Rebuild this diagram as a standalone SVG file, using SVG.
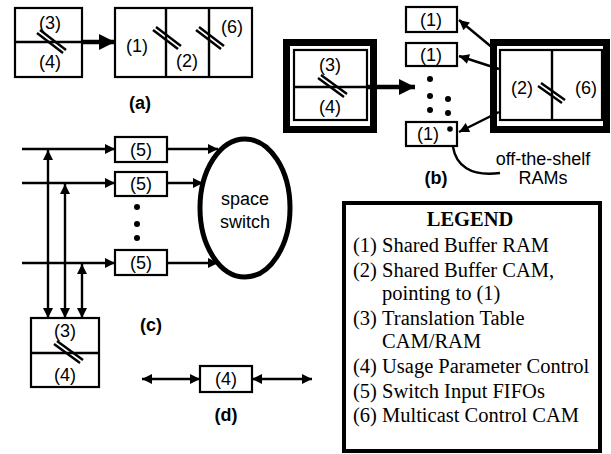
<svg xmlns="http://www.w3.org/2000/svg" width="611" height="454" viewBox="0 0 611 454">
<defs>
<style>
.box{fill:#fff;stroke:#000;stroke-width:2.2}
.thk{fill:none;stroke:#000;stroke-width:7}
.ln{fill:none;stroke:#000;stroke-width:2.4}
.sl{stroke:#000;stroke-width:2.4}
.big{fill:none;stroke:#000;stroke-width:4.5}
.t{font-family:"Liberation Sans",Arial,sans-serif;font-size:18px;text-anchor:middle;fill:#000}
.lab{font-family:"Liberation Sans",Arial,sans-serif;font-size:18px;font-weight:bold;text-anchor:middle;fill:#000}
.lg{font-family:"Liberation Serif","Times New Roman",serif;font-size:20.5px;fill:#000}
.dot{fill:#000}
</style>
<marker id="ah" viewBox="0 0 10 10" refX="10" refY="5" markerWidth="13" markerHeight="10" orient="auto-start-reverse" markerUnits="userSpaceOnUse"><path d="M0,0 L10,5 L0,10 z"/></marker>
<marker id="bh" viewBox="0 0 10 10" refX="10" refY="5" markerWidth="18" markerHeight="16" orient="auto" markerUnits="userSpaceOnUse"><path d="M0,0 L10,5 L0,10 z"/></marker>
</defs>

<!-- (a) -->
<g id="a-left">
<rect class="box" x="15" y="8" width="67" height="69"/>
<line class="ln" x1="15" y1="42" x2="82" y2="42"/>
<line class="sl" x1="37" y1="33" x2="63" y2="53"/>
<line class="sl" x1="40" y1="30" x2="66" y2="50"/>
<text class="t" x="50" y="29">(3)</text>
<text class="t" x="50" y="68">(4)</text>
</g>
<g id="a-right">
<rect class="box" x="115" y="8" width="137" height="69"/>
<line class="ln" x1="166" y1="8" x2="166" y2="77"/>
<line class="ln" x1="209" y1="8" x2="209" y2="77"/>
<line class="sl" x1="153" y1="30" x2="178" y2="49"/>
<line class="sl" x1="156" y1="27" x2="181" y2="46"/>
<line class="sl" x1="196" y1="30" x2="221" y2="49"/>
<line class="sl" x1="199" y1="27" x2="224" y2="46"/>
<text class="t" x="137" y="52">(1)</text>
<text class="t" x="187" y="67">(2)</text>
<text class="t" x="232" y="33">(6)</text>
</g>
<text class="lab" x="140" y="109">(a)</text>

<!-- (b) -->
<g id="b-left">
<rect class="thk" x="286.5" y="42.5" width="87" height="87"/>
<rect class="box" x="294" y="50" width="73" height="70"/>
<line class="ln" x1="294" y1="87" x2="367" y2="87"/>
<line class="sl" x1="318" y1="78" x2="344" y2="97"/>
<line class="sl" x1="321" y1="75" x2="347" y2="94"/>
<text class="t" x="330" y="71">(3)</text>
<text class="t" x="330" y="113">(4)</text>
</g>
<g id="b-ram1">
<rect class="box" x="406" y="7" width="51" height="25"/>
<text class="t" x="431" y="26">(1)</text>
</g>
<g id="b-ram2">
<rect class="box" x="406" y="43" width="51" height="23"/>
<text class="t" x="431" y="61">(1)</text>
</g>
<g id="b-ram3">
<rect class="box" x="406" y="122" width="51" height="24"/>
<text class="t" x="428" y="140">(1)</text>
<circle class="dot" cx="450" cy="129" r="2.8"/>
</g>
<g id="b-dots">
<circle class="dot" cx="430" cy="79" r="3"/>
<circle class="dot" cx="430" cy="96" r="3"/>
<circle class="dot" cx="430" cy="110" r="3"/>
<circle class="dot" cx="448" cy="99" r="3"/>
<circle class="dot" cx="448" cy="113" r="3"/>
</g>
<g id="b-right">
<rect class="thk" x="493.5" y="42.5" width="113" height="87"/>
<rect class="box" x="500" y="50" width="102" height="70"/>
<line class="ln" x1="552" y1="50" x2="552" y2="120"/>
<line class="sl" x1="538" y1="86" x2="562" y2="103"/>
<line class="sl" x1="541" y1="83" x2="565" y2="100"/>
<text class="t" x="522" y="94">(2)</text>
<text class="t" x="586" y="94">(6)</text>
</g>
<text class="t" x="543" y="165">off-the-shelf</text>
<text class="t" x="543" y="184">RAMs</text>
<text class="lab" x="436" y="184">(b)</text>

<!-- (c) -->
<g id="c-fifo1">
<rect class="box" x="115" y="137" width="52" height="25"/>
<text class="t" x="141" y="156">(5)</text>
</g>
<g id="c-fifo2">
<rect class="box" x="115" y="172" width="52" height="24"/>
<text class="t" x="141" y="190">(5)</text>
</g>
<g id="c-fifo3">
<rect class="box" x="115" y="250" width="52" height="25"/>
<text class="t" x="141" y="269">(5)</text>
</g>
<g id="c-dots">
<circle class="dot" cx="137" cy="207" r="3"/>
<circle class="dot" cx="137" cy="224" r="3"/>
<circle class="dot" cx="137" cy="238" r="3"/>
</g>
<g id="c-switch">
<ellipse cx="245" cy="208" rx="45" ry="69" fill="#fff" stroke="#000" stroke-width="5"/>
<text class="t" x="245" y="205" font-size="19px">space</text>
<text class="t" x="245" y="228" font-size="19px">switch</text>
</g>
<g id="c-table">
<rect class="box" x="31" y="318" width="68" height="69"/>
<line class="ln" x1="31" y1="353" x2="99" y2="353"/>
<line class="sl" x1="54" y1="344" x2="80" y2="363"/>
<line class="sl" x1="57" y1="341" x2="83" y2="360"/>
<text class="t" x="65" y="337">(3)</text>
<text class="t" x="65" y="381">(4)</text>
</g>
<text class="lab" x="151" y="331">(c)</text>

<!-- (d) -->
<g id="d-upc">
<rect class="box" x="200" y="366" width="52" height="26"/>
<text class="t" x="226" y="385">(4)</text>
</g>
<text class="lab" x="226" y="421">(d)</text>

<!-- legend -->
<g id="legend">
<rect x="344" y="203" width="256" height="248" fill="#fff" stroke="#000" stroke-width="4"/>
<text class="lg" x="470" y="226" text-anchor="middle" font-weight="bold">LEGEND</text>
<text class="lg" x="353" y="252">(1)</text><text class="lg" x="382" y="252">Shared Buffer RAM</text>
<text class="lg" x="353" y="277">(2)</text><text class="lg" x="382" y="277">Shared Buffer CAM,</text>
<text class="lg" x="382" y="300">pointing to (1)</text>
<text class="lg" x="353" y="325">(3)</text><text class="lg" x="382" y="325">Translation Table</text>
<text class="lg" x="382" y="348">CAM/RAM</text>
<text class="lg" x="353" y="373">(4)</text><text class="lg" x="382" y="373">Usage Parameter Control</text>
<text class="lg" x="353" y="398">(5)</text><text class="lg" x="382" y="398">Switch Input FIFOs</text>
<text class="lg" x="353" y="422">(6)</text><text class="lg" x="382" y="422">Multicast Control CAM</text>
</g>

<!-- connectors -->
<g id="connectors">
<line class="big" x1="82" y1="42" x2="115" y2="42" marker-end="url(#bh)"/>
<line class="big" x1="367" y1="87" x2="415" y2="87" marker-end="url(#bh)"/>
<line class="ln" x1="494" y1="49" x2="459" y2="20" marker-end="url(#ah)" stroke-width="3"/>
<line class="ln" x1="499" y1="69" x2="459" y2="56" marker-end="url(#ah)" stroke-width="3"/>
<line class="ln" x1="499" y1="112" x2="459" y2="132" marker-end="url(#ah)" stroke-width="3"/>
<path class="ln" d="M453,147 C456,165 470,177 500,173"/>
<line class="ln" x1="22" y1="149" x2="115" y2="149" marker-end="url(#ah)"/>
<line class="ln" x1="22" y1="183" x2="115" y2="183" marker-end="url(#ah)"/>
<line class="ln" x1="22" y1="263" x2="115" y2="263" marker-end="url(#ah)"/>
<line class="ln" x1="167" y1="149" x2="218" y2="149" marker-end="url(#ah)"/>
<line class="ln" x1="167" y1="183" x2="203" y2="183" marker-end="url(#ah)"/>
<line class="ln" x1="167" y1="263" x2="218" y2="263" marker-end="url(#ah)"/>
<line class="ln" x1="48" y1="318" x2="48" y2="150" marker-start="url(#ah)" marker-end="url(#ah)"/>
<line class="ln" x1="65" y1="318" x2="65" y2="184" marker-start="url(#ah)" marker-end="url(#ah)"/>
<line class="ln" x1="82" y1="318" x2="82" y2="264" marker-start="url(#ah)" marker-end="url(#ah)"/>
<line class="ln" x1="142" y1="379" x2="200" y2="379" marker-start="url(#ah)" marker-end="url(#ah)"/>
<line class="ln" x1="252" y1="379" x2="312" y2="379" marker-start="url(#ah)" marker-end="url(#ah)"/>
</g>
</svg>
